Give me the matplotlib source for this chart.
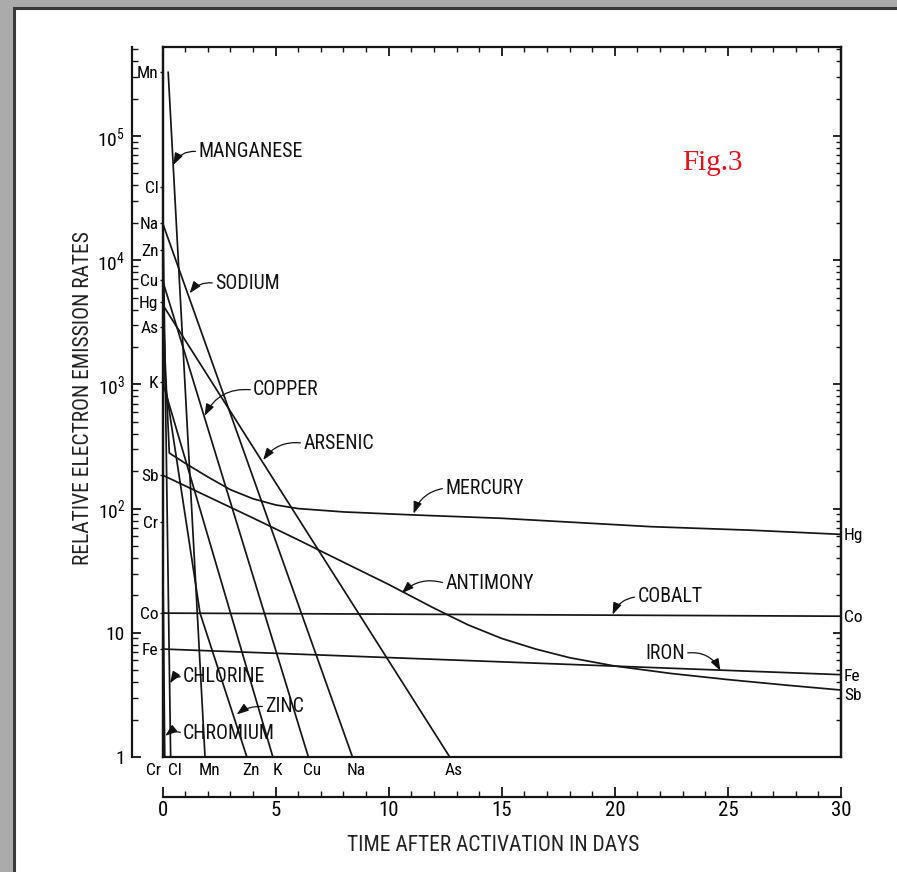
import matplotlib
matplotlib.use('Agg')
import matplotlib.pyplot as plt
from matplotlib import font_manager
from matplotlib.ticker import MultipleLocator, NullLocator, FixedLocator, FixedFormatter, LogLocator, NullFormatter
from matplotlib.patches import Rectangle

avail = {f.name for f in font_manager.fontManager.ttflist}
narrow = next((n for n in ['Roboto Condensed', 'Liberation Sans Narrow', 'DejaVu Sans Condensed']
               if n in avail), 'DejaVu Sans')
plt.rcParams['font.family'] = [narrow, 'DejaVu Sans']
plt.rcParams['mathtext.default'] = 'regular'

# ---------------- data ----------------
mn_t = [0.25, 1.88];  mn_v = [3.3e5, 1.0]
cl_t = [0.0, 0.36];   cl_v = [3.9e4, 1.0]
na_t = [0.0, 8.4];    na_v = [2.0e4, 1.0]
zn_t = [0.0, 0.12, 1.66, 3.73]; zn_v = [1.2e4, 1.0e3, 14.4, 1.0]
cu_t = [0.0, 6.45];   cu_v = [6.9e3, 1.0]
hg_t = [0.0, 0.3, 1.0, 2.0, 3.0, 4.0, 5.0, 6.0, 8.0, 11.0, 15.0, 21.6, 26.0, 30.0]
hg_v = [4600, 280, 232, 180, 142, 120, 107, 100, 94, 89, 83.5, 71.5, 67, 62]
as_t = [0.0, 12.7];   as_v = [4.4e3, 1.0]
k_t = [0.0, 4.88];    k_v = [1.05e3, 1.0]
sb_t = [0.0, 2.0, 4.0, 6.0, 8.0, 10.0, 12.0, 13.5, 15.0, 16.5, 18.0, 20.0, 22.5, 25.0, 27.5, 30.0]
sb_v = [186, 125, 84, 56, 37, 24.5, 15.8, 11.6, 9.0, 7.4, 6.3, 5.4, 4.7, 4.2, 3.8, 3.46]
cr_t = [0.0, 0.1];    cr_v = [78, 1.0]
co_t = [0.0, 30.0];   co_v = [14.4, 13.6]
fe_t = [0.0, 30.0];   fe_v = [7.4, 4.6]

left_names = ['Mn', 'Cl', 'Na', 'Zn', 'Cu', 'Hg', 'As', 'K', 'Sb', 'Cr', 'Co', 'Fe']
left_vals = [3.3e5, 3.9e4, 2.0e4, 1.2e4, 6.9e3, 4.6e3, 2.9e3, 1.05e3, 186, 78, 14.4, 7.4]
right_names = ['Hg', 'Co', 'Fe', 'Sb']
right_vals = [62, 13.6, 4.6, 3.2]
bottom_names = ['Cr', 'Cl', 'Mn', 'Zn', 'K', 'Cu', 'Na', 'As']
bottom_t = [0.0, 0.36, 1.88, 3.73, 4.88, 6.45, 8.4, 12.7]

y_tick_vals = [1, 10, 1e2, 1e3, 1e4, 1e5]
y_tick_labels = ['1', '10', '$10^2$', '$10^3$', '$10^4$', '$10^5$']
x_tick_vals = [0, 5, 10, 15, 20, 25, 30]
x_tick_labels = ['0', '5', '10', '15', '20', '25', '30']

# annotations: text, text (t, v), tip (t, v), curvature, side of text the pointer leaves
ann_text = ['MANGANESE', 'SODIUM', 'COPPER', 'ARSENIC', 'MERCURY', 'ANTIMONY',
            'COBALT', 'IRON', 'CHLORINE', 'ZINC', 'CHROMIUM']
ann_xy_text = [(1.58, 7.48e4), (2.32, 6.52e3), (4.0, 901), (6.22, 336), (12.5, 146), (12.5, 25),
               (21.0, 19.5), (23.1, 6.84), (0.91, 4.43), (4.54, 2.54), (0.91, 1.55)]
ann_xy_tip = [(0.48, 5.84e4), (1.2, 5.41e3), (1.86, 557), (4.45, 246), (11.1, 91), (10.58, 20.8),
              (19.9, 14.0), (24.67, 4.95), (0.33, 3.92), (3.28, 2.2), (0.12, 1.48)]
ann_rad = [0.35, 0.3, 0.35, 0.3, 0.3, 0.3, 0.3, -0.35, 0.3, 0.2, 0.3]
ann_side = ['L', 'L', 'L', 'L', 'L', 'L', 'L', 'R', 'L', 'L', 'L']

# ---------------- figure ----------------
W, H = 897, 872
fig = plt.figure(figsize=(W / 100, H / 100), dpi=100, facecolor='#ababab')
fig.patches.append(Rectangle((14 / W, -0.05), 1.1, 1.05 - 8 / H, transform=fig.transFigure,
                             facecolor='white', edgecolor='#3a3a3a', lw=2.2, zorder=-5))

x0, x1, ytop, ybot = 162.5, 841.0, 47.0, 757.0
ax = fig.add_axes([x0 / W, 1 - ybot / H, (x1 - x0) / W, (ybot - ytop) / H])
ax.set_facecolor('none')
ax.set_yscale('log')
ax.set_xlim(0, 30)
ax.set_ylim(1, 5.2e5)
lc = '#151515'
for s in ax.spines.values():
    s.set_linewidth(1.6)
    s.set_color(lc)

lw = 1.25
series = [(mn_t, mn_v), (cl_t, cl_v), (na_t, na_v), (zn_t, zn_v), (cu_t, cu_v), (hg_t, hg_v),
          (as_t, as_v), (k_t, k_v), (sb_t, sb_v), (cr_t, cr_v), (co_t, co_v), (fe_t, fe_v)]
for t, v in series:
    ax.plot(t, v, color=lc, lw=lw, solid_capstyle='butt', solid_joinstyle='round', clip_on=True)

# main axes ticks: top (days) and right (log)
ax.xaxis.set_major_locator(MultipleLocator(5))
ax.xaxis.set_minor_locator(MultipleLocator(1))
ax.tick_params(axis='x', which='both', bottom=False, top=True, labelbottom=False, labeltop=False,
               direction='in', color=lc)
ax.tick_params(axis='x', which='major', length=6.5, width=1.3)
ax.tick_params(axis='x', which='minor', length=3.8, width=1.0)
ax.yaxis.set_major_locator(LogLocator(base=10, numticks=20))
ax.yaxis.set_minor_locator(LogLocator(base=10, subs=range(2, 10), numticks=20))
ax.yaxis.set_minor_formatter(NullFormatter())
ax.tick_params(axis='y', which='both', left=False, right=True, labelleft=False, labelright=False,
               direction='in', color=lc)
ax.tick_params(axis='y', which='major', length=6, width=1.3)
ax.tick_params(axis='y', which='minor', length=3.5, width=1.0)

# element labels on the box's left edge
sl = ax.secondary_yaxis('left')
sl.set_yticks(left_vals, labels=left_names)
sl.yaxis.set_minor_locator(NullLocator())
sl.tick_params(axis='y', direction='out', length=2.5, width=1.0, pad=0.5, labelsize=12.5, color=lc)
sl.spines['left'].set_linewidth(1.6)

# element labels on the box's right edge
sr = ax.secondary_yaxis('right')
sr.set_yticks(right_vals, labels=right_names)
sr.yaxis.set_minor_locator(NullLocator())
sr.tick_params(axis='y', direction='out', length=0, pad=2, labelsize=12.5)
sr.spines['right'].set_linewidth(1.6)

# element labels under the box (where each line reaches 1)
for name, t in zip(bottom_names, bottom_t):
    ha = 'right' if t == 0.0 else 'center'
    dx = -1 if t == 0.0 else 3
    ax.annotate(name, xy=(t, 0), xycoords=('data', 'axes fraction'), xytext=(dx, -4),
                textcoords='offset points', ha=ha, va='top', fontsize=12.5, annotation_clip=False)

# detached left log axis
fl = ax.secondary_yaxis(-(x0 - 132) / (x1 - x0))
fl.yaxis.set_major_locator(FixedLocator(y_tick_vals))
fl.yaxis.set_major_formatter(FixedFormatter(y_tick_labels))
fl.yaxis.set_minor_locator(LogLocator(base=10, subs=range(2, 10), numticks=20))
fl.yaxis.set_minor_formatter(NullFormatter())
fl.tick_params(axis='y', which='both', direction='in', color=lc, labelsize=14, pad=5)
fl.tick_params(axis='y', which='major', length=6.5, width=1.3)
fl.tick_params(axis='y', which='minor', length=4, width=1.0)
fl.spines['left'].set_linewidth(1.6)
fl.spines['left'].set_color(lc)

# detached bottom day axis
fb = ax.secondary_xaxis(-(797 - ybot) / (ybot - ytop))
fb.set_xticks(x_tick_vals, labels=x_tick_labels)
fb.xaxis.set_minor_locator(MultipleLocator(1))
fb.tick_params(axis='x', which='both', direction='in', color=lc, labelsize=15, pad=3)
fb.tick_params(axis='x', which='major', length=7.5, width=1.3)
fb.tick_params(axis='x', which='minor', length=4, width=1.0)
fb.spines['bottom'].set_linewidth(1.6)
fb.spines['bottom'].set_color(lc)

fig.text(84 / W, 1 - 398 / H, 'RELATIVE ELECTRON EMISSION RATES', rotation=90,
         ha='center', va='center', fontsize=15.5, color='#222')
fig.text(493 / W, 1 - 845 / H, 'TIME AFTER ACTIVATION IN DAYS', ha='center', va='center',
         fontsize=15.5, color='#222')

for txt, pt, tip, rad, side in zip(ann_text, ann_xy_text, ann_xy_tip, ann_rad, ann_side):
    ax.annotate(txt, xy=tip, xytext=pt, ha='left' if side == 'L' else 'right', va='center',
                fontsize=14.3, color='#111',
                arrowprops=dict(arrowstyle='-|>,head_length=0.5,head_width=0.18', color='#111',
                                lw=0.9, connectionstyle=f'arc3,rad={rad}', shrinkA=0, shrinkB=0,
                                relpos=(0, 0.5) if side == 'L' else (1, 0.5)))

fig.text(712 / W, 1 - 163 / H, 'Fig.3', color='#e8101a', fontsize=21, ha='center', va='center',
         family=['Liberation Serif', 'DejaVu Serif'])

fig.savefig('out.png', dpi=100, facecolor=fig.get_facecolor())
